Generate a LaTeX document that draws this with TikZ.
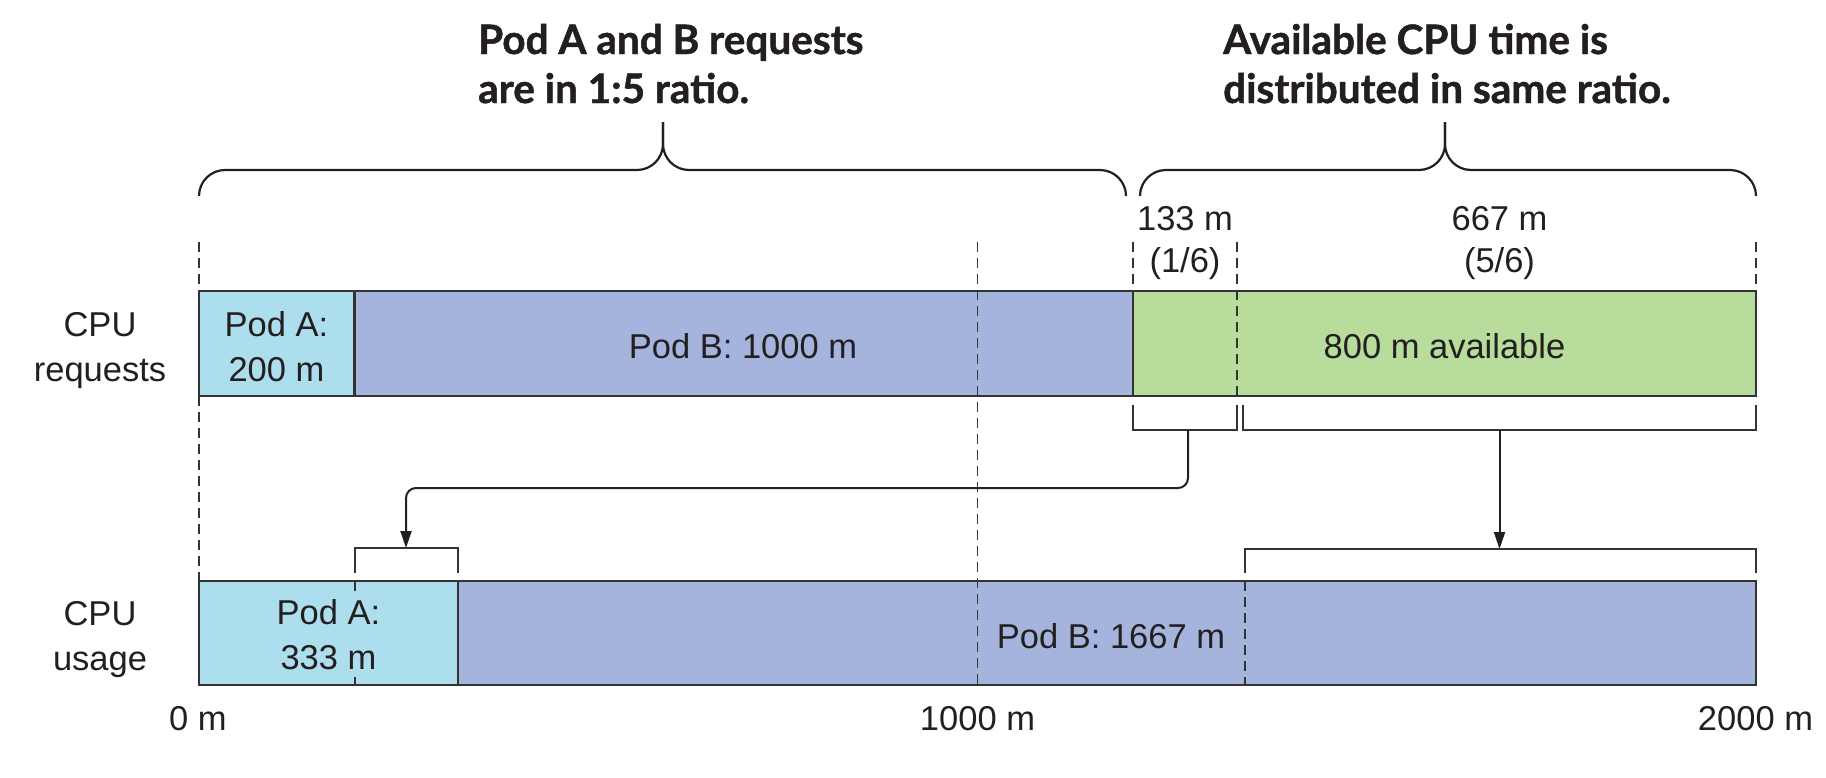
\documentclass[tikz,border=0pt]{standalone}
\usepackage{fontspec}
\setmainfont{Liberation Sans}
\newfontfamily\titlefont{Lato}[BoldFeatures={FakeBold=1.2}]
\usetikzlibrary{arrows.meta}
\definecolor{podA}{HTML}{ADDEED}
\definecolor{podB}{HTML}{A5B4DC}
\definecolor{avail}{HTML}{B8DC9C}
\definecolor{ink}{HTML}{231F20}
\definecolor{edge}{HTML}{333333}
\begin{document}
\begin{tikzpicture}[x=1pt,y=-1pt,
  lbl/.style={font=\fontsize{34.5}{45}\selectfont, text=ink, inner sep=0pt, align=center, anchor=base},
  lbltight/.style={lbl, font=\fontsize{34.5}{42}\selectfont},
  ttl/.style={font=\titlefont\bfseries\fontsize{40.5}{49}\selectfont, text=ink, inner sep=0pt, align=left, anchor=base west},
  baredge/.style={draw=edge, line width=2.6pt},
  dsh/.style={draw=edge, line width=1.6pt, dash pattern=on 10pt off 6pt},
  brk/.style={draw=edge, line width=2pt},
  bracepath/.style={draw=ink, line width=2.2pt, rounded corners=26pt},
  arr/.style={draw=ink, line width=2pt, rounded corners=10pt, -{Triangle[length=17pt,width=11pt]}}
]
\useasboundingbox (0,0) rectangle (1826,777);

% fills
\fill[podA] (199,291) rectangle (354.7,396);
\fill[podB] (354.7,291) rectangle (1133,396);
\fill[avail] (1133,291) rectangle (1756,396);
\fill[podA] (199,581) rectangle (458,685);
\fill[podB] (458,581) rectangle (1756,685);

% dashed guides
\draw[dsh] (199,242) -- (199,291);
\draw[dsh] (199,396) -- (199,581);
\draw[dsh] (977.5,242) -- (977.5,685);
\draw[dsh] (1133,242) -- (1133,291);
\draw[dsh] (1237,242) -- (1237,396);
\draw[dsh] (1756,242) -- (1756,291);
\draw[dsh] (354.7,581) -- (354.7,685);
\draw[dsh] (1245,581) -- (1245,685);

% bar outlines
\draw[baredge] (199,291) rectangle (1756,396);
\draw[baredge] (354.7,291) -- (354.7,396);
\draw[baredge] (1133,291) -- (1133,396);
\draw[baredge] (199,581) rectangle (1756,685);
\draw[baredge] (458,581) -- (458,685);

% braces
\draw[bracepath] (199,196) -- (199,170) -- (663,170) -- (663,122);
\draw[bracepath] (663,122) -- (663,170) -- (1126,170) -- (1126,196);
\draw[bracepath] (1140,196) -- (1140,170) -- (1445,170) -- (1445,122);
\draw[bracepath] (1445,122) -- (1445,170) -- (1756,170) -- (1756,196);

% brackets
\draw[brk] (1133,405) -- (1133,430) -- (1237,430) -- (1237,405);
\draw[brk] (1243,405) -- (1243,430) -- (1756,430) -- (1756,405);
\draw[brk] (354.7,573) -- (354.7,548) -- (458,548) -- (458,573);
\draw[brk] (1245,573) -- (1245,549) -- (1756,549) -- (1756,573);

% arrows
\coordinate (s1) at (1188,430);
\coordinate (e1) at (406,548);
\coordinate (mid) at (0,488);
\coordinate (s2) at (1499.5,430);
\coordinate (e2) at (1499.5,549);
\draw[arr] (s1) -- (s1 |- mid) -- (e1 |- mid) -- (e1);
\draw[arr, rounded corners=0pt] (s2) -- (e2);

% labels (multi-line nodes are placed by the baseline of their last line)
\node[lbl] (cpureq) at (100,381) {CPU\\requests};
\node[lbl] (podAreq) at (276.5,381) {Pod A:\\200 m};
\node[lbl] (podBreq) at (743,358) {Pod B: 1000 m};
\node[lbl] (availtxt) at (1444.5,358) {800 m available};
\node[lbltight] (share1) at (1185,272) {133 m\\(1/6)};
\node[lbltight] (share5) at (1499.5,272) {667 m\\(5/6)};
\node[lbl] (cpuuse) at (100,670) {CPU\\usage};
\node[lbl, fill=podA, inner ysep=8pt] (podAuse) at (328.5,669) {Pod A:\\333 m};
\node[lbl] (podBuse) at (1111,648) {Pod B: 1667 m};
\node[lbl] (zero) at (198,730) {0 m};
\node[lbl] (thou) at (977.5,730) {1000 m};
\node[lbl] (twothou) at (1755.5,730) {2000 m};

\node[ttl] (t1) at (478,103) {Pod A and B requests\\are in 1:5 ratio.};
\node[ttl] (t2) at (1223,103) {Available CPU time is\\distributed in same ratio.};
\end{tikzpicture}
\end{document}
